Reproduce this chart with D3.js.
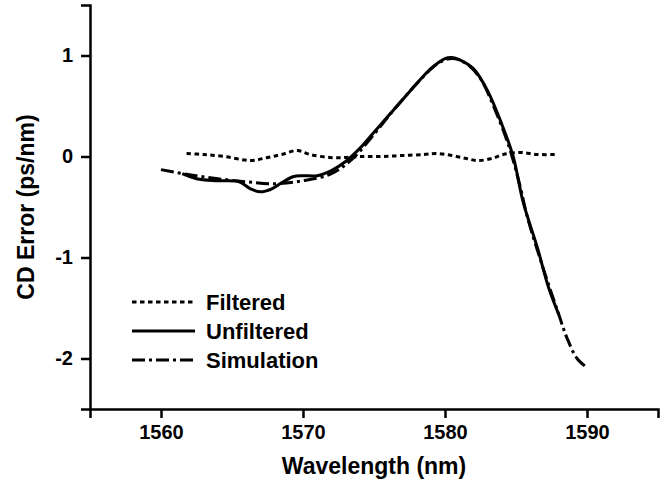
<!DOCTYPE html>
<html>
<head>
<meta charset="utf-8">
<script src="https://cdn.jsdelivr.net/npm/d3@7"></script>
<style>
  body { margin: 0; background: #fff; }
  text { font-family: "Liberation Sans", Arial, sans-serif; font-weight: bold; fill: #000; }
</style>
</head>
<body>
<script>
const width = 669;
const height = 485;

// wavelength (nm) and CD error (ps/nm)
const filteredX = [1561.8, 1563, 1564.5, 1566.3, 1567.5, 1568.5, 1569.6, 1570.5, 1571.9, 1573, 1574, 1575.5, 1577, 1578.5, 1579.4, 1580.5, 1581.5, 1582.3, 1583.3, 1584.1, 1585.3, 1586.5, 1587.8];
const filteredY = [0.03, 0.02, 0.0, -0.04, -0.01, 0.02, 0.06, 0.02, -0.01, -0.01, 0.0, 0.0, 0.01, 0.02, 0.03, 0.01, -0.02, -0.04, -0.02, 0.02, 0.04, 0.02, 0.02];

const unfilteredX = [1561.5, 1562.5, 1564, 1565.5, 1566.3, 1567, 1567.8, 1568.5, 1569.3, 1570, 1571, 1572, 1573, 1574, 1575, 1576, 1577, 1578, 1579, 1580, 1580.5, 1581, 1582, 1583, 1584, 1584.8, 1585.5, 1586.5, 1587.3, 1588];
const unfilteredY = [-0.17, -0.22, -0.24, -0.25, -0.32, -0.35, -0.32, -0.26, -0.2, -0.19, -0.19, -0.14, -0.05, 0.08, 0.24, 0.4, 0.56, 0.72, 0.87, 0.97, 0.98, 0.96, 0.87, 0.65, 0.32, 0.0, -0.45, -0.9, -1.3, -1.56];

const simulationX = [1560, 1562, 1564, 1566, 1568, 1570, 1572, 1573.5, 1575, 1576.5, 1578, 1579.5, 1580.5, 1581.5, 1582.5, 1583.5, 1584.5, 1585.3, 1585.8, 1586.9, 1588, 1588.6, 1589.3, 1590];
const simulationY = [-0.13, -0.18, -0.22, -0.25, -0.27, -0.24, -0.17, -0.02, 0.22, 0.48, 0.72, 0.92, 0.97, 0.92, 0.77, 0.47, 0.1, -0.3, -0.6, -1.1, -1.56, -1.8, -2.0, -2.09];

const xTicks = [1560, 1570, 1580, 1590];
const yTicks = [-2, -1, 0, 1];
const legendLabels = ["Filtered", "Unfiltered", "Simulation"];

const series = [
  { name: "Filtered", xs: filteredX, ys: filteredY, dash: "4.5,3.5" },
  { name: "Unfiltered", xs: unfilteredX, ys: unfilteredY, dash: null },
  { name: "Simulation", xs: simulationX, ys: simulationY, dash: "13,4,3,4" }
];

const x = d3.scaleLinear().domain([1555, 1595]).range([90, 658]);
const y = d3.scaleLinear().domain([-2.5, 1.5]).range([409, 5]);

const svg = d3.select("body")
  .append("svg")
  .attr("width", width)
  .attr("height", height);

const line = d3.line()
  .x(d => x(d[0]))
  .y(d => y(d[1]))
  .curve(d3.curveCatmullRom);

svg.append("g")
  .selectAll("path")
  .data(series)
  .join("path")
  .attr("d", d => line(d.xs.map((v, i) => [v, d.ys[i]])))
  .attr("fill", "none")
  .attr("stroke", "#000")
  .attr("stroke-width", 3)
  .attr("stroke-dasharray", d => d.dash);

// x axis
const xAxis = svg.append("g")
  .attr("transform", `translate(0,${y(-2.5)})`);
xAxis.call(d3.axisBottom(x).tickValues(d3.range(1555, 1596, 5)).tickSize(5).tickFormat(""));
xAxis.call(d3.axisBottom(x).tickValues(xTicks).tickSize(9).tickPadding(7).tickFormat(d => String(d)));
xAxis.selectAll("path").attr("stroke", "#000").attr("stroke-width", 2.5);
xAxis.selectAll("line").attr("stroke", "#000").attr("stroke-width", 2.5);
xAxis.selectAll("text").attr("font-size", 20).attr("fill", "#000");

// y axis
const yAxis = svg.append("g")
  .attr("transform", `translate(${x(1555)},0)`);
yAxis.call(d3.axisLeft(y).tickValues(d3.range(-2.5, 1.6, 0.5)).tickSize(5).tickFormat(""));
yAxis.call(d3.axisLeft(y).tickValues(yTicks).tickSize(9).tickPadding(8).tickFormat(d => String(d)));
yAxis.selectAll("path").attr("stroke", "#000").attr("stroke-width", 2.5);
yAxis.selectAll("line").attr("stroke", "#000").attr("stroke-width", 2.5);
yAxis.selectAll("text").attr("font-size", 20).attr("fill", "#000");

svg.append("text")
  .attr("x", (x(1555) + x(1595)) / 2)
  .attr("y", 474)
  .attr("text-anchor", "middle")
  .attr("font-size", 23)
  .text("Wavelength (nm)");

svg.append("text")
  .attr("transform", `translate(34,${(y(1.5) + y(-2.5)) / 2}) rotate(-90)`)
  .attr("text-anchor", "middle")
  .attr("font-size", 23)
  .text("CD Error (ps/nm)");

// legend
const legend = svg.append("g")
  .selectAll("g")
  .data(series)
  .join("g")
  .attr("transform", (d, i) => `translate(132,${302 + i * 29})`);

legend.append("line")
  .attr("x1", 0)
  .attr("x2", 63)
  .attr("stroke", "#000")
  .attr("stroke-width", 3)
  .attr("stroke-dasharray", d => d.dash);

legend.append("text")
  .attr("x", 74)
  .attr("dy", "0.35em")
  .attr("font-size", 22)
  .text((d, i) => legendLabels[i]);
</script>
</body>
</html>
